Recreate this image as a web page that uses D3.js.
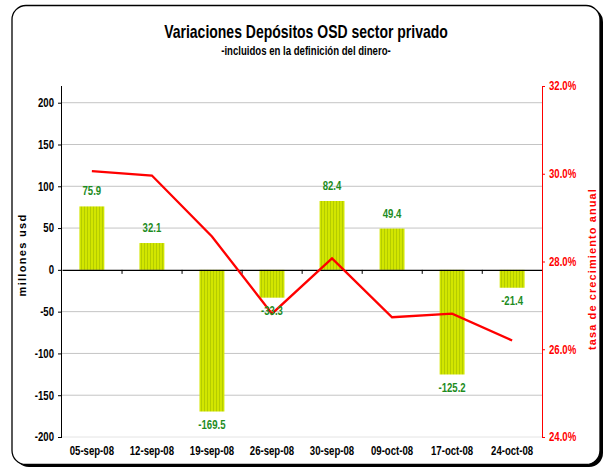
<!DOCTYPE html>
<html>
<head>
<meta charset="utf-8">
<script src="https://cdn.jsdelivr.net/npm/d3@7/dist/d3.min.js"></script>
<style>
  body { margin: 0; background: #fff; }
  svg text { font-family: "Liberation Sans", Arial, sans-serif; font-weight: bold; }
</style>
</head>
<body>
<svg id="chart" width="606" height="470"></svg>
<script>
// data
const fechas = ['05-sep-08', '12-sep-08', '19-sep-08', '26-sep-08', '30-sep-08', '09-oct-08', '17-oct-08', '24-oct-08'];
const variaciones = [75.9, 32.1, -169.5, -33.3, 82.4, 49.4, -125.2, -21.4];
const tasaAnual = [0.3006, 0.2996, 0.2857, 0.2681, 0.2807, 0.2673, 0.2681, 0.2620];
const ticksIzq = [-200, -150, -100, -50, 0, 50, 100, 150, 200];
const ticksDer = [0.24, 0.26, 0.28, 0.30, 0.32];

const svg = d3.select('#chart');
const plotL = 62, plotR = 542, plotT = 86, plotB = 437;
const K = 0.8; // squeeze text horizontally, like Arial Narrow

// squeeze text horizontally keeping its anchor point
function narrow(sel) {
    sel.each(function () {
        const t = d3.select(this);
        const xv = +(t.attr('x') || 0);
        t.attr('x', xv / K).attr('transform', (t.attr('transform') || '') + ` scale(${K},1)`);
    });
}

// frame with shadow on right/bottom
svg.append('rect').attr('x', 15).attr('y', 8).attr('width', 588).attr('height', 459)
    .attr('rx', 14).attr('fill', '#000');
svg.append('rect').attr('x', 12).attr('y', 5.5).attr('width', 588).attr('height', 459)
    .attr('rx', 14).attr('fill', '#fff').attr('stroke', '#000').attr('stroke-width', 1.3);

// stripes for the bars
const pat = svg.append('defs').append('pattern').attr('id', 'rayas')
    .attr('patternUnits', 'userSpaceOnUse').attr('width', 3).attr('height', 4);
pat.append('rect').attr('width', 3).attr('height', 4).attr('fill', '#d2e600');
pat.append('rect').attr('width', 1).attr('height', 4).attr('fill', '#b4cc00');

const x = d3.scaleBand().domain(fechas).range([plotL, plotR]).paddingInner(0.585).paddingOuter(0.29);
const y = d3.scaleLinear().domain([-200, 220]).range([plotB, plotT]);
const y2 = d3.scaleLinear().domain([0.24, 0.32]).range([plotB, plotT]);

// gridlines
svg.append('g').selectAll('line').data(ticksIzq.filter(d => d !== 0)).join('line')
    .attr('x1', plotL).attr('x2', plotR)
    .attr('y1', d => y(d)).attr('y2', d => y(d))
    .attr('stroke', d => d === -200 ? '#e4e4e4' : '#c4c4c4').attr('stroke-width', 1);

// bars
svg.append('g').selectAll('rect').data(variaciones).join('rect')
    .attr('x', (d, i) => x(fechas[i]))
    .attr('width', x.bandwidth())
    .attr('y', d => y(Math.max(0, d)))
    .attr('height', d => Math.abs(y(d) - y(0)))
    .attr('fill', 'url(#rayas)');

// category axis on zero
const xAxis = svg.append('g').attr('transform', `translate(0,${y(0)})`)
    .call(d3.axisBottom(x).tickSize(0).tickFormat(''));
xAxis.select('.domain').attr('stroke', '#000').attr('stroke-width', 1.3);
xAxis.selectAll('.tick').remove();
const step = x.step();
xAxis.selectAll('line.sep').data(d3.range(1, fechas.length)).join('line')
    .attr('class', 'sep')
    .attr('x1', i => plotL + i * step).attr('x2', i => plotL + i * step)
    .attr('y1', 0).attr('y2', 4).attr('stroke', '#000');

// category labels at bottom
svg.append('g').selectAll('text').data(fechas).join('text')
    .attr('x', d => x(d) + x.bandwidth() / 2).attr('y', 455)
    .attr('text-anchor', 'middle').attr('font-size', 12).attr('fill', '#000')
    .text(d => d)
    .call(narrow);

// left axis
const yAxis = svg.append('g').attr('transform', `translate(${plotL},0)`)
    .call(d3.axisLeft(y).tickValues(ticksIzq).tickSize(4).tickPadding(4).tickFormat(d => String(d)));
yAxis.select('.domain').attr('d', `M-0.5,${plotT}V${plotB}`).attr('stroke', '#000');
yAxis.selectAll('.tick line').attr('stroke', '#000');
yAxis.selectAll('.tick text').attr('font-size', 12).attr('fill', '#000')
    .style('font-family', '"Liberation Sans", Arial, sans-serif').style('font-weight', 'bold')
    .call(narrow);

// right axis
const y2Axis = svg.append('g').attr('transform', `translate(${plotR},0)`)
    .call(d3.axisRight(y2).tickValues(ticksDer).tickSize(3).tickPadding(4)
        .tickFormat(d => (d * 100).toFixed(1) + '%'));
y2Axis.select('.domain').attr('d', `M0.5,${plotT}V${plotB}`).attr('stroke', '#ff0000');
y2Axis.selectAll('.tick line').attr('stroke', '#ff0000');
y2Axis.selectAll('.tick text').attr('font-size', 12).attr('fill', '#ff0000')
    .style('font-family', '"Liberation Sans", Arial, sans-serif').style('font-weight', 'bold')
    .call(narrow);

// growth line
const linea = d3.line().x((d, i) => x(fechas[i]) + x.bandwidth() / 2).y(d => y2(d));
svg.append('path').datum(tasaAnual).attr('d', linea)
    .attr('fill', 'none').attr('stroke', '#ff0000').attr('stroke-width', 2.3);

// value labels
svg.append('g').selectAll('text').data(variaciones).join('text')
    .attr('x', (d, i) => x(fechas[i]) + x.bandwidth() / 2)
    .attr('y', d => d >= 0 ? y(d) - 11 : y(d) + 17.5)
    .attr('text-anchor', 'middle').attr('font-size', 12).attr('fill', '#1e8c1e')
    .text(d => d.toFixed(1))
    .call(narrow);

// titles
svg.append('text').attr('x', 306).attr('y', 38).attr('text-anchor', 'middle')
    .attr('font-size', 17.5).attr('fill', '#000').text('Variaciones Depósitos OSD sector privado')
    .call(narrow);
svg.append('text').attr('x', 306).attr('y', 55).attr('text-anchor', 'middle')
    .attr('font-size', 12).attr('fill', '#000').text('-incluidos en la definición del dinero-')
    .call(narrow);

svg.append('text').attr('transform', 'translate(26,255) rotate(-90)').attr('text-anchor', 'middle')
    .attr('font-size', 11).attr('letter-spacing', 1.3).attr('fill', '#000').text('millones usd');
svg.append('text').attr('transform', 'translate(596,269) rotate(-90)').attr('text-anchor', 'middle')
    .attr('font-size', 11).attr('letter-spacing', 1.1).attr('fill', '#ff0000').text('tasa de crecimiento anual');
</script>
</body>
</html>
